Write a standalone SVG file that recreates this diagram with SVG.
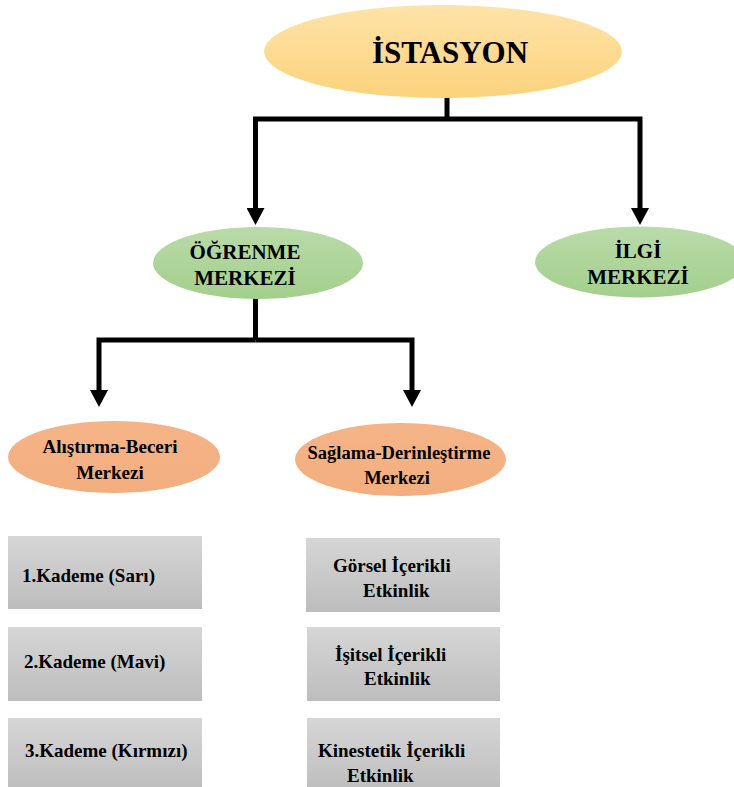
<svg xmlns="http://www.w3.org/2000/svg" width="734" height="787" viewBox="0 0 734 787">
<defs>
<linearGradient id="gYellow" x1="0" y1="0" x2="0" y2="1"><stop offset="0" stop-color="#fee3a8"/><stop offset="1" stop-color="#fcd37d"/></linearGradient>
<linearGradient id="gGreen" x1="0" y1="0" x2="0" y2="1"><stop offset="0" stop-color="#b9dba9"/><stop offset="1" stop-color="#a3cf8c"/></linearGradient>
<linearGradient id="gOrange" x1="0" y1="0" x2="0" y2="1"><stop offset="0" stop-color="#f5b487"/><stop offset="1" stop-color="#f3ae7f"/></linearGradient>
<linearGradient id="gGray" x1="0" y1="0" x2="0" y2="1"><stop offset="0" stop-color="#d6d6d6"/><stop offset="1" stop-color="#bdbdbd"/></linearGradient>
<marker id="arrow" markerUnits="userSpaceOnUse" markerWidth="17" markerHeight="18" viewBox="0 0 17 18" refX="0" refY="9" orient="auto">
<polygon points="0,0 17,9 0,18" fill="#000"/>
</marker>
</defs>
<style>
text{font-family:"Liberation Serif","Times New Roman",serif;font-weight:bold;fill:#000}
.conn{fill:none;stroke:#000;stroke-width:5;stroke-linejoin:miter;stroke-linecap:butt}
.arr{marker-end:url(#arrow)}
.box{fill:url(#gGray)}
.mid{text-anchor:middle}
.t21{font-size:21px}
.t19{font-size:19px}
</style>
<rect width="734" height="787" fill="#fff"/>
<g id="connectors">
<path class="conn" d="M447,97 V119"/>
<path class="conn arr" d="M447,119 H255.5 V208"/>
<path class="conn arr" d="M447,119 H640 V208"/>
<path class="conn" d="M255.5,298 V340"/>
<path class="conn arr" d="M255.5,340 H99 V390"/>
<path class="conn arr" d="M255.5,340 H412 V390"/>
</g>
<g id="istasyon">
<ellipse cx="443" cy="51.5" rx="179" ry="46.5" fill="url(#gYellow)"/>
<text x="450" y="63" class="mid" font-size="31">İSTASYON</text>
</g>
<g id="ogrenme">
<ellipse cx="258" cy="263" rx="105" ry="36" fill="url(#gGreen)"/>
<text x="245" y="259" class="mid t21">ÖĞRENME</text>
<text x="245" y="285" class="mid t21">MERKEZİ</text>
</g>
<g id="ilgi">
<ellipse cx="640" cy="262" rx="105" ry="35.5" fill="url(#gGreen)"/>
<text x="638" y="258" class="mid t21">İLGİ</text>
<text x="638" y="284" class="mid t21">MERKEZİ</text>
</g>
<g id="alistirma">
<ellipse cx="114" cy="457" rx="106" ry="36" fill="url(#gOrange)"/>
<text x="110" y="453" class="mid t19">Alıştırma-Beceri</text>
<text x="110" y="479" class="mid t19">Merkezi</text>
</g>
<g id="saglama">
<ellipse cx="400.5" cy="459.5" rx="105.5" ry="36.5" fill="url(#gOrange)"/>
<text x="399" y="459" class="mid" font-size="18.5">Sağlama-Derinleştirme</text>
<text x="397" y="484" class="mid" font-size="18.5">Merkezi</text>
</g>
<g id="kademe1">
<rect class="box" x="8" y="536" width="194" height="73"/>
<text x="22" y="582" class="t19">1.Kademe (Sarı)</text>
</g>
<g id="kademe2">
<rect class="box" x="8" y="627" width="194" height="74"/>
<text x="24" y="668" class="t19">2.Kademe (Mavi)</text>
</g>
<g id="kademe3">
<rect class="box" x="8" y="718" width="194" height="74"/>
<text x="25" y="757" class="t19">3.Kademe (Kırmızı)</text>
</g>
<g id="gorsel">
<rect class="box" x="306" y="538" width="194" height="74"/>
<text x="333" y="572" class="t19">Görsel İçerikli</text>
<text x="363" y="597" class="t19">Etkinlik</text>
</g>
<g id="isitsel">
<rect class="box" x="307" y="627" width="193" height="74"/>
<text x="335" y="661" class="t19">İşitsel İçerikli</text>
<text x="364" y="685" class="t19">Etkinlik</text>
</g>
<g id="kinestetik">
<rect class="box" x="307" y="718" width="193" height="74"/>
<text x="318" y="757" class="t19">Kinestetik İçerikli</text>
<text x="347" y="782" class="t19">Etkinlik</text>
</g>
</svg>
